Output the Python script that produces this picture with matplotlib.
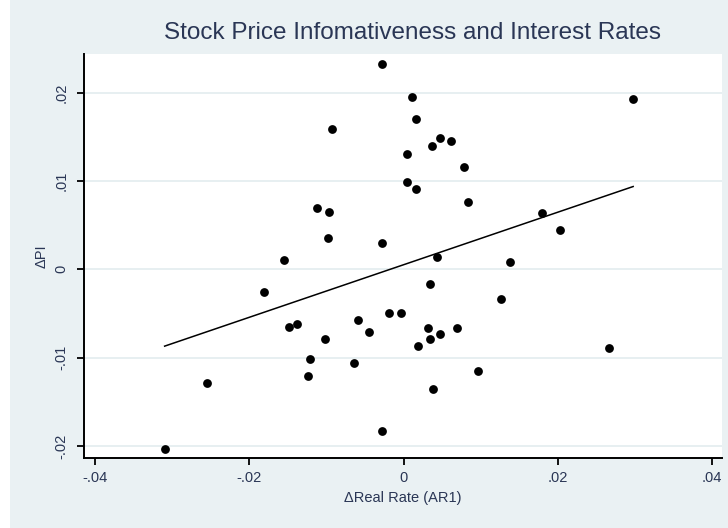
import numpy as np
import matplotlib
matplotlib.use("Agg")
import matplotlib.pyplot as plt
from matplotlib.patches import Rectangle
from matplotlib.ticker import FuncFormatter

# change in real rate (AR1) vs change in price informativeness
d_real_rate = [-0.00276, 0.00105, 0.00157, -0.00923, 0.00364, 0.00472, 0.00610, 0.00040,
               0.00782, 0.00040, 0.00157, 0.00838, -0.01118, -0.00966, -0.00983, -0.00284,
               -0.01549, 0.00437, 0.02975, 0.01797, 0.02026, 0.01378, 0.00342, 0.01266,
               -0.00038, -0.00189, 0.00316, 0.00696, 0.00472, 0.00342, 0.00187, 0.02661,
               0.00968, 0.00381, -0.01808, -0.01484, -0.01377, -0.00587, -0.00448, -0.01018,
               -0.01212, -0.00642, -0.01238, -0.02543, -0.00276, -0.03095]
d_pi = [0.02322, 0.01948, 0.01702, 0.01585, 0.01396, 0.01490, 0.01453, 0.01306,
        0.01162, 0.00992, 0.00909, 0.00759, 0.00691, 0.00652, 0.00358, 0.00301,
        0.00110, 0.00143, 0.01929, 0.00641, 0.00445, 0.00086, -0.00170, -0.00340,
        -0.00498, -0.00491, -0.00661, -0.00668, -0.00736, -0.00789, -0.00865, -0.00888,
        -0.01152, -0.01356, -0.00260, -0.00657, -0.00623, -0.00574, -0.00707, -0.00789,
        -0.01016, -0.01065, -0.01208, -0.01284, -0.01831, -0.02035]

x_ticks = [-0.04, -0.02, 0, 0.02, 0.04]
y_ticks = [-0.02, -0.01, 0, 0.01, 0.02]

bg = '#EAF1F3'
txt = '#2A3655'
fonts = ['Liberation Sans Narrow', 'Liberation Sans', 'DejaVu Sans']

fig = plt.figure(figsize=(7.28, 5.28), dpi=100, facecolor=bg)
fig.patches.append(Rectangle((0, 0), 10 / 728, 1, transform=fig.transFigure,
                             facecolor='white', edgecolor='none', zorder=0))

ax = fig.add_axes([83.5 / 728, 1 - 458 / 528, (722 - 83.5) / 728, (458 - 54) / 528])
ax.set_facecolor('white')

x = np.array(d_real_rate)
y = np.array(d_pi)
ax.scatter(x, y, s=40, color='black', zorder=3, linewidths=0)

# linear fit over the data range
b, a = np.polyfit(x, y, 1)
xs = np.array([x.min(), x.max()])
ax.plot(xs, a + b * xs, color='black', lw=1.1, zorder=2)

ax.set_xlim(-0.04146, 0.04126)
ax.set_ylim(-0.02136, 0.02438)
ax.set_xticks(x_ticks)
ax.set_yticks(y_ticks)

fmt = FuncFormatter(lambda v, p: '0' if abs(v) < 1e-12 else ('%g' % v).replace('0.', '.'))
ax.xaxis.set_major_formatter(fmt)
ax.yaxis.set_major_formatter(fmt)

ax.grid(axis='y', color='#E3ECEF', lw=1.2, zorder=0)
ax.set_axisbelow(True)

for s in ['top', 'right']:
    ax.spines[s].set_visible(False)
for s in ['left', 'bottom']:
    ax.spines[s].set_linewidth(1.4)

ax.tick_params(axis='both', direction='out', length=5, width=1.3, colors='black',
               labelcolor=txt, labelsize=10.5)
ax.tick_params(axis='x', pad=4)
ax.tick_params(axis='y', pad=6)
for lab in ax.get_yticklabels():
    lab.set_rotation(90)
    lab.set_va('center')
for lab in ax.get_xticklabels() + ax.get_yticklabels():
    lab.set_family(fonts)

ax.set_xlabel('ΔReal Rate (AR1)', fontsize=10.5, color=txt, family=fonts, labelpad=5)
ax.set_ylabel('ΔPI', fontsize=10.5, color=txt, family=fonts, labelpad=4)

fig.text(412 / 728, 1 - 33 / 528, 'Stock Price Infomativeness and Interest Rates',
         ha='center', va='center', fontsize=17.5, color=txt, family=fonts)

fig.savefig('out.png', dpi=100, facecolor=bg)
